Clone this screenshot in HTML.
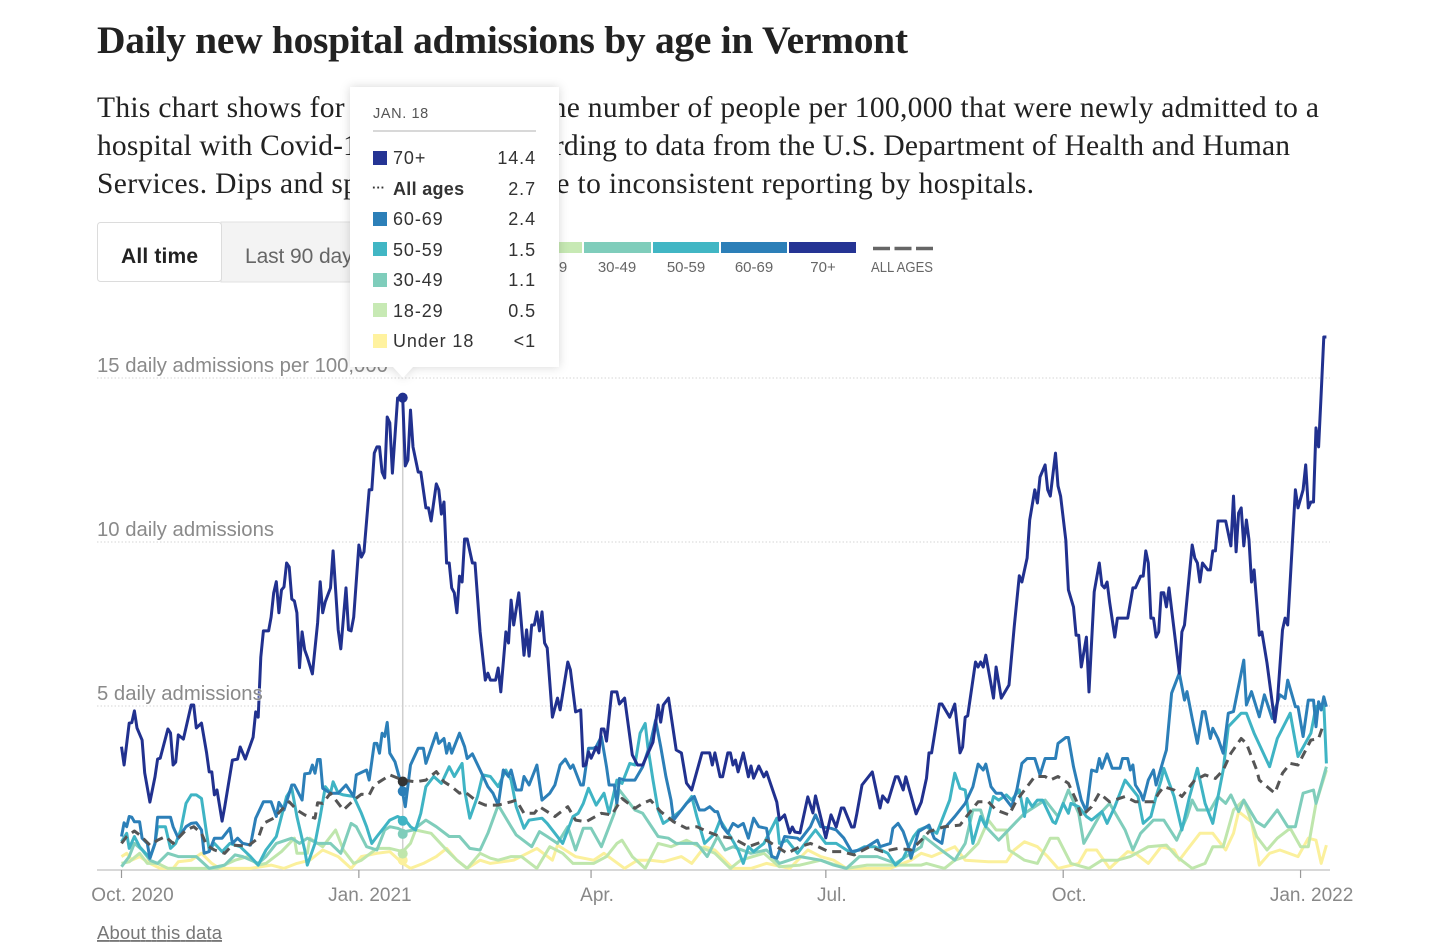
<!DOCTYPE html>
<html lang="en">
<head>
<meta charset="utf-8">
<title>Daily new hospital admissions by age in Vermont</title>
<style>
html,body{margin:0;padding:0;background:#fff;width:1456px;height:943px;overflow:hidden}
svg{display:block}
text{font-family:"Liberation Sans",sans-serif}
.serif{font-family:"Liberation Serif",serif}
</style>
</head>
<body>
<svg id="chart" width="1456" height="943" viewBox="0 0 1456 943" xmlns="http://www.w3.org/2000/svg">
  <text class="serif" x="97" y="53" font-size="39.5" font-weight="700" fill="#222" textLength="811" lengthAdjust="spacing">Daily new hospital admissions by age in Vermont</text>
  <g fill="#222" font-size="29.5">
    <text class="serif" x="97" y="117" textLength="1222" lengthAdjust="spacing">This chart shows for each age group the number of people per 100,000 that were newly admitted to a</text>
    <text class="serif" x="97" y="155" textLength="1193" lengthAdjust="spacing">hospital with Covid-19 each day, according to data from the U.S. Department of Health and Human</text>
    <text class="serif" x="97" y="193" textLength="937" lengthAdjust="spacing">Services. Dips and spikes could be due to inconsistent reporting by hospitals.</text>
  </g>

  <g>
    <rect x="221" y="222" width="180" height="60" fill="#f3f3f3" stroke="#e0e0e0"/>
    <rect x="97.5" y="222.5" width="124" height="59" rx="3" fill="#fff" stroke="#dcdcdc"/>
    <text x="121" y="263" font-size="21" font-weight="700" fill="#222" textLength="77" lengthAdjust="spacing">All time</text>
    <text x="245" y="263" font-size="21" fill="#666" textLength="118" lengthAdjust="spacing">Last 90 days</text>
  </g>

  <g>
    <rect x="515" y="242" width="67" height="11" fill="#c7e9b4"/>
    <rect x="584" y="242" width="67" height="11" fill="#7fcdbb"/>
    <rect x="653" y="242" width="66" height="11" fill="#41b6c4"/>
    <rect x="721" y="242" width="66" height="11" fill="#2c7fb8"/>
    <rect x="789" y="242" width="67" height="11" fill="#253494"/>
    <line x1="873" y1="248.5" x2="933" y2="248.5" stroke="#666" stroke-width="3.5" stroke-dasharray="17 4.5"/>
    <g font-size="15" fill="#666" text-anchor="middle">
      <text x="548" y="272">18-29</text>
      <text x="617" y="272">30-49</text>
      <text x="686" y="272">50-59</text>
      <text x="754" y="272">60-69</text>
      <text x="823" y="272">70+</text>
    </g>
    <text x="871" y="272" font-size="15" fill="#666" textLength="62" lengthAdjust="spacingAndGlyphs">ALL AGES</text>
  </g>

  <g id="plot"></g>

  <g>
    <path d="M350,87H559V367H413L403,378L393,367H350Z" fill="#fff" style="filter:drop-shadow(0 0 5px rgba(0,0,0,.16))"/>
    <text x="373" y="118" font-size="14.5" fill="#555" letter-spacing=".6">JAN. 18</text>
    <line x1="373" y1="131" x2="536" y2="131" stroke="#ccc" stroke-width="1.5"/>
    <g font-size="18" fill="#333" letter-spacing=".9">
      <rect x="373" y="151" width="14" height="14" fill="#253494"/>
      <text x="393" y="164">70+</text>
      <text x="536" y="164" text-anchor="end">14.4</text>
      <text x="372" y="192" font-size="13" font-weight="700" letter-spacing="0">···</text>
      <text x="393" y="195" font-weight="700" letter-spacing=".3">All ages</text>
      <text x="536" y="195" text-anchor="end">2.7</text>
      <rect x="373" y="212" width="14" height="14" fill="#2c7fb8"/>
      <text x="393" y="225">60-69</text>
      <text x="536" y="225" text-anchor="end">2.4</text>
      <rect x="373" y="242" width="14" height="14" fill="#41b6c4"/>
      <text x="393" y="256">50-59</text>
      <text x="536" y="256" text-anchor="end">1.5</text>
      <rect x="373" y="273" width="14" height="14" fill="#7fcdbb"/>
      <text x="393" y="286">30-49</text>
      <text x="536" y="286" text-anchor="end">1.1</text>
      <rect x="373" y="303" width="14" height="14" fill="#c7e9b4"/>
      <text x="393" y="317">18-29</text>
      <text x="536" y="317" text-anchor="end">0.5</text>
      <rect x="373" y="334" width="14" height="14" fill="#fff29f"/>
      <text x="393" y="347">Under 18</text>
      <text x="536" y="347" text-anchor="end">&lt;1</text>
    </g>
  </g>

  <text x="97" y="939" font-size="18.5" fill="#777" text-decoration="underline" textLength="125" lengthAdjust="spacing">About this data</text>
</svg>
<script>
// Axis ticks
const xTickDays = [0, 92, 182, 273, 365, 457];
const xTickLabels = ['Oct. 2020', 'Jan. 2021', 'Apr.', 'Jul.', 'Oct.', 'Jan. 2022'];
const yTickValues = [5, 10, 15];
const yTickLabels = ['5 daily admissions', '10 daily admissions', '15 daily admissions per 100,000'];

// Hovered day (Jan. 18) and the series values shown for it
const hoverDay = 109;
const hoverUnder18 = 0.3, hover1829 = 0.5, hover3049 = 1.1, hover5059 = 1.5, hover6069 = 2.4, hover70 = 14.4, hoverAll = 2.7;

// Series: days since Oct. 1 2020, daily admissions per 100,000
const days70 = [0,1,3,4,5,6,8,9,11,13,14,15,18,19,20,21,22,24,27,28,
29,31,33,34,35,36,37,39,40,43,45,46,48,51,52,53,54,55,57,58,
59,60,61,62,63,64,65,66,67,68,69,70,71,72,74,76,77,78,79,81,
82,84,85,87,88,89,90,92,93,94,96,97,98,99,100,101,102,103,104,105,
107,109,110,111,112,113,115,116,118,119,120,122,123,124,125,126,127,128,129,130,
131,132,133,134,136,137,139,141,142,143,145,146,147,149,150,151,152,154,156,157,
158,159,160,161,162,163,164,165,167,169,170,173,174,176,178,179,180,181,182,184,
185,186,187,188,190,192,193,195,198,200,202,206,208,209,210,212,215,217,219,221,
225,228,229,230,232,233,235,236,237,238,239,241,243,244,245,247,249,250,254,255,
257,259,260,261,263,266,268,269,273,275,277,279,280,283,284,285,287,291,294,295,
297,300,301,303,304,308,310,312,313,314,317,318,321,323,325,326,327,328,331,332,
333,334,335,338,339,341,344,346,348,349,351,352,354,355,356,358,359,360,362,363,
364,366,367,369,370,371,372,374,375,377,379,380,381,382,383,385,386,390,392,393,
395,396,397,398,399,400,401,402,403,404,405,406,408,410,411,412,415,416,417,418,
419,421,422,423,424,425,428,430,431,432,433,434,435,436,437,438,439,441,442,444,
447,448,450,451,452,455,456,458,459,460,461,462,463,464,465,466,467];
const vals70 = [3.76,3.2,4.48,4.49,4.85,4.33,3.96,2.96,2.07,2.84,3.38,3.41,4.3,4.18,3.2,3.29,4.12,3.99,5.03,5.03,
4.33,4.48,3.57,2.99,2.99,2.29,2.44,1.49,1.92,3.35,3.38,3.75,3.38,4.05,4.82,4.66,6.49,7.29,7.29,7.71,
8.45,8.79,7.84,8.54,8.63,9.36,9.24,8.26,8.2,7.84,6.17,7.26,6.71,6.49,5.98,7.53,8.79,7.84,8.18,8.6,
9.73,7.32,6.74,8.6,7.32,7.29,7.71,9.91,9.54,9.7,11.59,11.59,12.71,12.9,12.9,12.13,11.95,13.81,13.63,12.1,
14.39,14.39,12.32,12.5,14.02,12.9,12.13,12.13,11.04,11.04,10.64,11.77,11.59,10.85,11.22,9.36,9.36,8.6,8.45,7.84,
8.96,8.78,10.09,10.09,9.36,9.36,7.26,5.79,6.0,5.79,5.79,6.16,5.43,7.26,6.92,8.23,7.47,8.45,6.55,7.32,
6.52,7.47,7.47,7.87,7.29,7.87,6.92,6.77,4.66,5.24,4.88,6.34,6.1,4.82,4.88,3.17,3.2,3.6,3.41,3.75,
3.57,4.3,4.3,3.93,5.43,5.43,5.06,5.24,3.51,3.2,3.2,3.9,5.03,4.51,5.03,5.24,3.66,3.57,2.65,2.44,
3.57,3.57,3.2,3.57,2.84,2.84,3.57,3.57,3.2,3.35,2.99,3.57,2.84,3.17,2.8,3.17,2.84,2.99,2.07,1.52,
1.68,1.13,1.31,1.16,1.13,2.23,1.74,2.26,0.98,1.68,1.31,1.89,1.89,1.31,1.31,1.71,2.59,2.99,1.89,2.26,
2.07,2.84,2.84,2.44,2.84,1.71,2.07,2.8,3.57,3.57,5.06,5.06,4.66,5.06,3.57,3.75,4.66,4.7,6.34,6.19,
6.34,6.19,6.55,5.24,6.19,5.24,5.64,7.41,8.97,8.78,9.51,10.67,11.59,11.19,11.98,12.35,11.59,11.4,12.71,11.71,
11.4,10.06,8.54,8.02,7.16,7.16,6.19,7.1,5.43,8.48,9.36,8.69,8.6,8.78,8.17,7.1,7.68,7.68,8.6,8.6,
8.96,8.96,9.73,9.36,7.68,7.68,7.1,7.26,8.45,8.45,8.02,8.6,7.32,6.0,7.26,7.47,9.91,9.51,9.36,8.78,
9.36,9.15,9.15,9.73,9.73,10.64,10.64,9.88,11.4,9.7,10.88,11.04,9.88,10.67,10.06,8.78,9.15,7.16,7.26,6.31,
4.51,5.09,7.32,7.68,7.47,11.59,11.04,11.59,12.35,11.04,11.22,11.22,13.48,12.9,14.54,16.25,16.25];

const days6069 = [0,1,2,3,4,5,7,8,10,11,13,14,19,20,22,25,27,29,31,32,34,36,39,42,43,45,47,50,52,55,58,60,61,63,66,67,70,71,73,74,75,76,77,78,81,84,87,90,91,95,96,98,99,100,101,102,103,104,106,108,110,112,115,117,118,122,123,125,126,127,128,131,133,134,136,139,142,144,146,148,150,151,153,155,156,158,161,163,166,168,170,172,174,175,178,179,181,183,184,186,188,189,191,192,193,195,199,202,205,207,209,211,213,214,217,219,222,224,226,228,230,231,233,235,237,239,241,243,245,247,250,252,254,257,262,263,267,269,271,275,277,280,283,286,289,293,294,298,299,301,303,305,306,309,310,313,315,318,319,323,327,330,332,334,335,337,339,341,344,345,347,349,351,354,356,358,362,363,366,367,369,372,374,376,378,379,380,382,384,387,388,390,391,392,393,395,396,398,400,401,404,405,407,410,412,413,415,417,419,420,422,423,425,427,429,431,435,436,438,441,443,446,449,451,452,455,456,458,460,462,463,464,465,466,467];
const vals6069 = [1.02,1.44,1.32,1.63,1.61,1.47,1.47,0.97,0.81,0.36,0.81,1.61,1.61,1.32,0.97,1.32,1.42,1.44,1.22,0.51,0.56,0.97,0.97,1.27,0.81,0.97,0.81,0.76,1.58,2.08,2.08,1.63,2.06,1.83,2.59,2.59,2.13,2.93,2.95,3.2,2.95,3.37,3.37,2.49,2.34,2.34,2.59,2.24,2.9,3.05,2.74,3.86,3.86,3.56,4.17,4.07,4.5,3.56,3.3,2.74,1.93,3.2,3.71,3.71,3.25,4.17,3.86,4.01,3.56,3.86,3.56,4.17,3.76,3.4,3.54,3.05,2.54,2.34,1.98,3.05,2.85,3.05,2.44,2.44,2.85,2.59,3.2,2.13,2.34,2.59,3.2,3.38,3.1,3.2,2.59,2.59,3.71,3.71,3.76,4.07,3.15,2.59,2.59,2.03,2.79,2.74,2.74,3.15,3.86,4.57,3.76,2.85,2.13,1.52,1.83,2.03,2.24,1.83,1.83,1.93,1.78,1.78,1.32,1.12,1.42,1.32,1.42,0.97,1.58,1.32,1.27,0.41,0.36,1.02,0.97,0.91,1.32,1.68,1.32,1.27,1.22,0.97,0.56,0.61,0.71,0.91,0.71,0.81,1.27,1.42,1.17,0.71,0.36,1.17,1.22,1.37,0.97,0.81,1.27,1.63,2.03,2.54,3.23,3.05,3.23,2.54,2.34,2.34,2.03,1.93,2.44,3.25,3.4,3.4,2.9,3.4,3.4,3.86,4.04,4.04,3.15,2.13,1.78,3.05,3.0,3.4,3.1,3.54,3.1,3.1,3.4,3.4,3.05,3.2,2.59,2.34,2.13,2.74,3.05,2.59,3.4,3.66,5.39,6.0,5.18,5.44,4.62,3.86,4.83,4.83,4.01,4.32,4.01,3.56,4.78,4.83,6.4,5.03,5.44,4.67,5.34,4.62,5.34,5.23,5.79,4.98,4.98,4.07,5.18,5.18,4.37,5.13,4.88,5.28,4.98];

const days5059 = [0,2,3,5,7,11,13,14,17,19,21,23,25,27,29,31,33,34,36,39,42,46,50,53,56,60,64,66,68,71,72,75,77,79,81,82,84,86,90,93,95,97,99,102,104,107,110,112,114,116,118,121,124,127,129,132,133,135,138,140,143,146,149,151,153,156,158,163,165,168,171,175,177,179,181,184,187,189,192,194,197,199,201,203,204,206,208,210,214,217,221,223,226,230,232,236,239,241,243,245,249,254,255,258,262,267,269,273,277,283,288,292,297,300,303,307,309,312,316,318,321,323,325,327,330,333,335,338,340,343,345,348,350,351,353,355,357,361,362,365,367,368,371,374,376,380,382,385,389,391,394,396,399,401,403,404,408,411,414,417,420,423,427,429,434,436,439,445,448,453,456,461,463,466,467];
const vals5059 = [0.86,1.12,0.66,1.02,0.71,0.36,0.81,1.32,1.32,0.66,0.81,1.22,2.03,2.29,2.29,2.18,1.12,0.61,0.81,0.56,0.81,0.71,0.41,0.15,0.61,1.02,2.24,2.49,1.63,0.61,0.15,0.81,1.63,2.54,2.34,2.69,2.34,2.29,2.24,1.73,1.32,0.81,1.02,1.32,1.52,1.63,1.52,1.32,1.22,1.73,2.54,2.85,2.64,3.15,2.85,3.25,2.44,1.58,2.24,2.9,2.85,2.54,3.05,2.74,1.93,1.27,1.52,1.58,1.42,1.12,0.81,1.63,1.73,2.03,2.49,1.98,2.34,1.73,2.74,2.64,3.25,3.2,4.17,4.47,3.76,2.74,1.83,1.42,1.63,1.83,2.24,1.63,0.81,1.12,1.52,1.02,0.61,0.2,0.71,0.56,0.81,1.58,0.81,0.91,0.51,1.02,1.22,0.81,0.81,0.51,0.71,0.71,0.51,0.15,0.36,1.02,1.22,1.32,1.12,1.52,2.13,2.95,2.49,2.44,0.81,1.63,1.32,2.24,2.13,2.29,2.13,2.44,1.63,2.18,1.93,2.13,2.13,1.47,1.42,2.03,1.73,2.03,1.93,1.63,1.52,1.78,1.42,1.93,2.74,2.54,2.24,1.42,1.63,2.24,2.74,3.1,2.24,1.22,2.24,3.1,2.03,1.42,3.05,4.37,4.78,4.78,4.17,3.15,4.01,4.78,3.46,4.17,4.98,5.08,3.25];

const days3049 = [0,3,5,8,11,14,18,22,25,29,34,40,44,47,53,56,60,66,69,72,76,81,85,89,91,95,99,102,104,107,110,113,118,122,127,131,135,139,142,146,151,153,159,162,165,169,173,176,179,182,186,191,193,199,202,208,212,215,219,223,227,231,234,237,244,250,255,263,271,276,281,286,293,300,310,311,316,323,327,330,333,335,340,345,350,358,363,367,371,373,380,383,389,392,395,400,404,409,413,415,417,422,425,428,430,433,435,440,443,448,452,455,458,462,463,467];
const vals3049 = [0.1,0.41,0.81,0.61,0.3,0.2,0.51,0.41,0.41,0.41,0.05,0.15,0.46,0.41,0.2,0.41,0.81,0.97,0.81,0.97,0.81,0.81,0.51,1.42,1.32,0.71,0.61,1.22,1.32,1.27,1.17,1.22,1.52,1.32,1.02,1.02,0.66,0.61,1.12,1.98,1.32,1.07,0.71,1.17,1.02,0.81,1.32,0.61,1.27,1.27,0.71,1.73,2.44,1.83,1.73,1.02,0.97,0.81,0.81,0.81,0.41,1.02,0.61,0.71,0.51,0.61,0.2,0.41,0.3,0.15,0.05,0.41,0.41,0.2,0.71,1.02,0.71,0.3,0.81,1.83,1.83,1.32,0.91,1.32,1.73,2.13,1.63,2.44,1.73,0.81,1.78,2.03,1.22,0.61,1.12,1.52,1.52,0.91,1.63,2.13,1.83,1.83,2.24,2.03,2.29,1.78,2.13,1.47,1.32,1.83,1.32,1.32,2.34,2.44,2.03,3.15];

const days1829 = [0,3,7,10,14,18,33,37,44,49,53,56,62,67,68,72,73,78,83,86,90,93,99,104,109,112,114,120,126,130,134,139,143,146,151,155,161,166,171,175,183,188,192,194,198,203,208,213,219,224,230,236,240,249,255,263,271,281,289,300,310,312,319,323,327,332,336,339,343,344,350,355,360,363,368,375,380,386,391,398,405,409,415,420,423,427,431,435,440,444,448,453,457,460,463,467];
const vals1829 = [0.2,0.25,0.51,0.2,0.2,0.05,0.05,0.05,0.3,0.41,0.15,0.2,0.56,0.97,0.51,0.51,0.97,0.71,1.22,0.61,0.2,0.3,0.66,0.66,0.56,0.81,1.22,1.12,0.61,0.3,0.05,0.51,0.36,0.3,0.41,0.41,0.05,0.71,0.51,0.2,0.2,0.41,0.81,0.91,0.41,0.05,0.81,0.71,0.91,0.71,0.51,0.05,0.3,0.51,0.1,0.15,0.3,0.05,0.15,0.15,0.15,0.2,0.05,0.3,0.41,0.81,1.52,1.22,1.22,0.61,0.3,0.2,0.97,0.97,0.2,0.05,0.3,0.3,0.41,0.71,0.76,0.41,0.05,0.2,0.71,0.71,1.83,2.13,1.02,0.61,0.97,1.27,0.71,0.71,2.03,3.05];

const daysUnder18 = [0,2,4,7,11,15,20,22,27,31,35,38,50,58,63,68,73,78,84,89,93,99,104,109,112,117,122,126,130,134,139,143,152,161,167,169,176,183,187,195,200,205,210,217,221,226,230,237,244,250,259,266,271,276,281,298,306,310,314,323,327,336,343,346,350,355,359,363,371,374,378,383,390,393,398,403,408,410,413,418,423,428,431,433,438,441,445,449,456,460,463,465,467];
const valsUnder18 = [0.41,0.51,0.3,0.41,0.2,0.05,0.05,0.25,0.3,0.51,0.2,0.05,0.05,0.15,0.05,0.2,0.3,0.61,0.41,0.05,0.41,0.51,0.56,0.2,0.05,0.2,0.41,0.66,0.3,0.05,0.3,0.2,0.3,0.66,0.3,0.76,0.41,0.3,0.51,0.05,0.3,0.3,0.25,0.41,0.2,0.71,0.61,0.05,0.05,0.2,0.05,0.61,0.41,0.3,0.05,0.05,0.3,0.51,0.41,0.71,0.3,0.25,0.25,0.61,0.86,0.71,0.41,0.05,0.2,0.61,0.61,0.05,0.56,0.51,0.2,0.71,0.61,0.3,0.61,1.12,1.12,0.61,1.12,1.78,1.47,0.15,0.51,0.61,0.41,0.97,0.91,0.2,0.76];

const daysAll = [0,2,5,7,11,14,17,20,25,28,31,33,36,40,43,49,53,55,59,65,68,71,75,76,78,81,86,90,93,96,98,102,104,109,114,118,122,125,128,131,133,138,141,146,151,153,156,160,162,168,173,176,180,186,190,194,199,202,205,209,214,219,223,227,232,237,243,250,254,258,263,267,270,274,279,284,290,295,301,306,310,313,319,325,328,332,336,339,344,347,351,354,358,360,363,367,370,372,376,379,383,389,393,400,402,404,408,411,416,420,424,427,430,434,436,440,441,447,450,453,456,461,464,466];
const valsAll = [0.81,1.02,1.19,1.07,0.76,0.91,1.02,0.81,1.22,1.32,1.12,0.76,0.61,0.51,0.76,0.73,0.97,1.42,1.58,2.08,1.83,1.68,1.58,2.05,2.03,2.34,1.83,2.13,2.31,2.29,2.59,2.79,2.9,2.74,2.69,2.74,3.0,2.69,2.54,2.34,2.39,2.08,1.98,1.98,2.08,2.13,1.73,1.73,1.93,1.63,1.93,1.52,1.47,1.73,1.68,2.18,1.88,2.03,2.13,1.78,1.47,1.27,1.32,1.17,1.02,0.97,0.71,0.91,0.71,0.51,0.71,0.81,0.71,0.56,0.56,0.46,0.71,0.56,0.66,0.61,0.91,1.17,1.32,1.37,1.68,2.08,2.08,1.83,1.68,2.13,2.54,2.85,2.85,2.74,2.85,2.64,2.13,1.63,1.93,2.34,2.08,2.24,2.08,2.08,2.34,2.54,2.44,2.24,2.74,2.9,2.79,3.05,3.56,4.01,3.86,3.05,2.74,2.34,2.95,3.25,3.2,3.96,4.01,4.47];

const NS = 'http://www.w3.org/2000/svg';
const plot = document.getElementById('plot');
const xScale = d => 121.5 + d * 2.58;
const yScale = v => 870 - v * 32.8;

function make(tag, attrs, parent, text) {
  const el = document.createElementNS(NS, tag);
  for (const k in attrs) el.setAttribute(k, attrs[k]);
  if (text !== undefined) el.textContent = text;
  (parent || plot).appendChild(el);
  return el;
}

// Gridlines
yTickValues.forEach(v => {
  const g = make('line', {x1: 97, x2: 1330, y1: yScale(v), y2: yScale(v), stroke: '#dedede', 'stroke-width': 1.2, 'stroke-dasharray': '1.5 2'});
  
  
});

// X axis
const axisLine = make('line', {x1: 97, x2: 1330, y1: 870, y2: 870, stroke: '#ccc', 'stroke-width': 1.5});


xTickDays.forEach((d, i) => {
  const tick = make('line', {x1: xScale(d), x2: xScale(d), y1: 870, y2: 878, stroke: '#999', 'stroke-width': 1.2});
  
  
  const label = make('text', {x: xScale(d) + (xTickLabels[i].length > 4 ? 11 : 6), y: 901, 'text-anchor': 'middle', 'font-size': 19, fill: '#888'}, plot, xTickLabels[i]);
  
  
});

// Hover rule
const hoverRule = make('line', {x1: xScale(hoverDay), x2: xScale(hoverDay), y1: yScale(hover70), y2: 870, stroke: '#cfcfcf', 'stroke-width': 1.5});



function drawLine(days, vals, color, dash) {
  const pts = [];
  const n = Math.min(days.length, vals.length);
  for (let i = 0; i < n; i++) pts.push(xScale(days[i]).toFixed(1) + ',' + yScale(vals[i]).toFixed(1));
  const attrs = {points: pts.join(' '), fill: 'none', stroke: color, 'stroke-width': 3, 'stroke-linejoin': 'round'};
  if (dash) attrs['stroke-dasharray'] = dash;
  return make('polyline', attrs);
}

const lineUnder18 = drawLine(daysUnder18, valsUnder18, '#fbf09c');


const line1829 = drawLine(days1829, vals1829, '#bfe6ac');


const line3049 = drawLine(days3049, vals3049, '#7fcdbb');


const line5059 = drawLine(days5059, vals5059, '#3fb4c4');


const line6069 = drawLine(days6069, vals6069, '#2c7fb8');


const lineAll = drawLine(daysAll, valsAll, '#555', '9 6');


const line70 = drawLine(days70, vals70, '#21318f');



// Hover dots
function drawDot(v, color) {
  return make('circle', {cx: xScale(hoverDay), cy: yScale(v), r: 5, fill: color});
}
const dotUnder18 = drawDot(hoverUnder18, '#fbf09c');


const dot1829 = drawDot(hover1829, '#bfe6ac');


const dot3049 = drawDot(hover3049, '#7fcdbb');


const dot5059 = drawDot(hover5059, '#3fb4c4');


const dot6069 = drawDot(hover6069, '#2c7fb8');


const dotAll = drawDot(hoverAll, '#333');


const dot70 = drawDot(hover70, '#21318f');



// Y labels sit over the lines
yTickValues.forEach((v, i) => {
  const label = make('text', {x: 97, y: yScale(v) - 6, 'font-size': 20.3, fill: '#8a8a8a', stroke: 'rgba(255,255,255,.6)', 'stroke-width': 2, 'paint-order': 'stroke'}, plot, yTickLabels[i]);
  
  
});
</script>
</body>
</html>
